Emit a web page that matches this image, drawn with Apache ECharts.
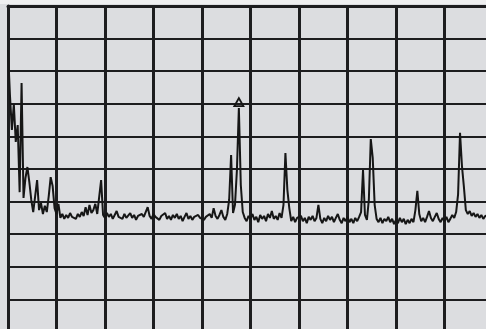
<!DOCTYPE html>
<html>
<head>
<meta charset="utf-8">
<script src="https://cdn.jsdelivr.net/npm/echarts@6/dist/echarts.min.js"></script>
<style>
  html, body { margin: 0; padding: 0; background: #dcdde0; overflow: hidden; }
  /* The graticule runs a little past the visible window on the right and bottom */
  #chart { width: 500px; height: 340px; }
</style>
</head>
<body>
<div id="chart"></div>
<script>
// Spectrum trace: span 0–1000 MHz, 4 MHz per sweep point, levels in dBm
const startFreq = 0;
const stepFreq = 4;
const levels = [
  -13.5, -27.3, -38.0, -30.1, -41.7, -36.5, -57.1, -23.6, -58.9, -52.8,
  -49.4, -54.0, -59.5, -63.2, -58.3, -53.4, -62.6, -60.4, -63.8, -61.3,
  -63.2, -58.3, -52.5, -55.2, -62.0, -63.8, -60.7, -65.0, -63.8, -65.3,
  -64.1, -65.0, -63.5, -64.7, -64.1, -65.3, -63.8, -64.7, -63.2, -64.4,
  -61.7, -64.1, -61.0, -63.5, -62.6, -60.7, -63.8, -64.4, -53.4, -64.1,
  -65.0, -63.5, -64.7, -63.8, -65.3, -64.1, -62.9, -64.7, -64.1, -65.3,
  -63.8, -65.0, -64.4, -63.5, -65.0, -64.1, -65.6, -64.4, -65.0, -63.8,
  -64.7, -64.1, -61.7, -64.4, -65.3, -63.8, -64.7, -64.1, -65.6, -64.4,
  -65.0, -63.5, -65.3, -64.4, -65.6, -64.1, -65.0, -63.8, -65.3, -64.4,
  -66.0, -64.7, -63.5, -65.3, -64.4, -65.6, -64.7, -65.3, -64.1, -65.0,
  -64.4, -65.6, -64.7, -65.3, -63.8, -65.0, -62.0, -64.4, -65.3, -64.1,
  -62.6, -64.7, -65.6, -63.8, -59.5, -45.7, -63.5, -61.0, -50.3, -31.3,
  -54.9, -63.2, -65.0, -66.0, -64.4, -65.3, -63.8, -65.6, -64.7, -66.3,
  -64.1, -65.3, -64.4, -66.0, -63.8, -65.0, -62.9, -65.3, -64.4, -65.6,
  -63.5, -65.0, -61.0, -45.1, -56.4, -62.0, -66.0, -64.7, -66.3, -65.0,
  -65.6, -64.4, -66.0, -65.0, -66.6, -64.7, -65.6, -64.4, -66.0, -65.0,
  -61.0, -65.3, -66.6, -65.0, -66.0, -64.4, -65.6, -64.7, -66.3, -65.0,
  -63.8, -65.6, -66.6, -65.0, -66.0, -64.7, -66.3, -65.3, -66.6, -65.0,
  -66.0, -64.7, -63.2, -50.3, -64.1, -65.6, -59.5, -40.8, -46.6, -61.0,
  -65.3, -66.3, -65.0, -66.6, -65.3, -66.0, -64.7, -66.3, -65.3, -66.9,
  -65.6, -66.6, -65.0, -66.3, -65.3, -66.9, -65.6, -66.6, -65.3, -66.3,
  -62.6, -56.7, -63.8, -66.0, -65.0, -66.3, -64.7, -62.9, -65.0, -66.0,
  -64.7, -63.5, -65.3, -66.3, -65.0, -66.0, -64.7, -66.3, -65.3, -64.1,
  -65.0, -63.2, -57.8, -38.9, -49.1, -55.5, -62.6, -63.8, -62.9, -64.4,
  -63.5, -64.7, -63.8, -65.0, -64.1, -65.3, -64.4, -65.0, -64.1, -65.3,
  -64.7
];
// Marker sits on the sweep point of the strongest carrier
const markerIndex = 119;

const trace = levels.map((lv, i) => [startFreq + i * stepFreq, lv]);
const gridColor = '#1d1d1f';

const chart = echarts.init(document.getElementById('chart'), null, { renderer: 'canvas' });
chart.setOption({
  animation: false,
  backgroundColor: '#dcdde0',
  grid: { left: 8, top: 6, width: 485, height: 326, containLabel: false },
  xAxis: {
    type: 'value', min: 0, max: 1000, interval: 100, position: 'top',
    axisLine: { show: true, lineStyle: { color: gridColor, width: 3 } },
    axisTick: { show: false }, axisLabel: { show: false },
    splitLine: { show: true, lineStyle: { color: gridColor, width: 3 } }
  },
  yAxis: {
    type: 'value', min: -100, max: 0, interval: 10,
    axisLine: { show: true, lineStyle: { color: gridColor, width: 3 } },
    axisTick: { show: false }, axisLabel: { show: false },
    splitLine: { show: true, lineStyle: { color: gridColor, width: 2.2 } }
  },
  graphic: [{
    type: 'rect', left: 0, top: 0, z: 100,
    shape: { width: 500, height: 4 },
    style: { fill: '#efeff0' }
  }],
  series: [{
    type: 'line',
    data: trace,
    showSymbol: false,
    symbol: 'none',
    lineStyle: { color: '#161616', width: 2 },
    z: 5,
    markPoint: {
      silent: true,
      symbol: 'triangle',
      symbolSize: [9, 8],
      symbolOffset: [0, -6],
      label: { show: false },
      itemStyle: { color: 'rgba(0,0,0,0)', borderColor: '#161616', borderWidth: 1.8 },
      data: [{ coord: trace[markerIndex] }]
    }
  }]
});
</script>
</body>
</html>
